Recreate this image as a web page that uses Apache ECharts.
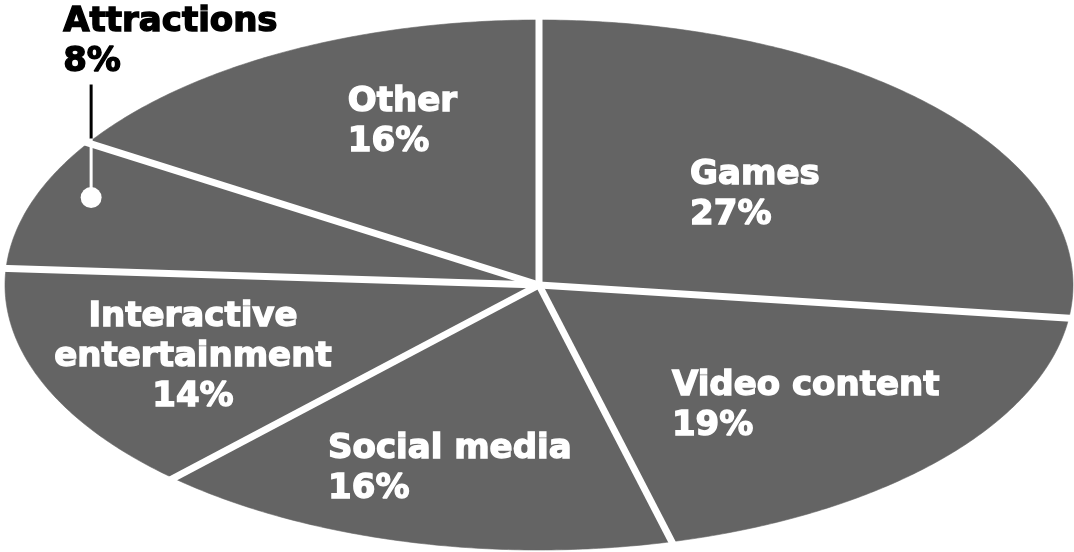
<!DOCTYPE html>
<html>
<head>
<meta charset="utf-8">
<script src="https://cdn.jsdelivr.net/npm/echarts@6/dist/echarts.min.js"></script>
<style>
  html, body { margin: 0; padding: 0; background: #ffffff; }
  #chart { width: 1074px; height: 552px; }
</style>
</head>
<body>
<div id="chart"></div>
<script>
// Share of spending by category (percent), drawn clockwise from 12 o'clock
const categories = ['Games', 'Video content', 'Social media', 'Interactive entertainment', 'Attractions', 'Other'];
const labelLines = ['Games', 'Video content', 'Social media', 'Interactive\nentertainment', 'Attractions', 'Other'];
const shares = [27, 19, 16, 14, 8, 16];

// Geometry of the flattened pie (pixels)
const PIE = { cx: 539, cy: 285, rx: 534, ry: 265 };
const FILL = '#646464';
const FONT = 'bold 34px "DejaVu Sans"';

// Label placement, as fractions of the radii from the centre (top edge of the text block)
const labelSpots = [
  { fx: 0.283, fy: -0.49, align: 'left', color: '#ffffff' },
  { fx: 0.249, fy: 0.305, align: 'left', color: '#ffffff' },
  { fx: -0.395, fy: 0.545, align: 'left', color: '#ffffff' },
  { fx: -0.648, fy: 0.045, align: 'center', color: '#ffffff' },
  { fx: -0.891, fy: -1.066, align: 'left', color: '#000000', leader: true },
  { fx: -0.358, fy: -0.765, align: 'left', color: '#ffffff' }
];

const total = shares.reduce((a, b) => a + b, 0);
const starts = [];
shares.reduce((acc, v, i) => { starts[i] = acc; return acc + v; }, 0);

// angle measured clockwise from the top
function pt(angle, k) {
  const s = k == null ? 1 : k;
  return [PIE.cx + PIE.rx * s * Math.sin(angle), PIE.cy - PIE.ry * s * Math.cos(angle)];
}

function renderItem(params, api) {
  const i = params.dataIndex;
  const v = api.value(0);
  const a0 = starts[i] / total * Math.PI * 2;
  const a1 = (starts[i] + v) / total * Math.PI * 2;
  const steps = Math.max(8, Math.ceil((a1 - a0) / 0.01));
  const points = [[PIE.cx, PIE.cy]];
  for (let s = 0; s <= steps; s++) {
    points.push(pt(a0 + (a1 - a0) * s / steps));
  }
  const edge = pt(a0, 1.05);
  const spot = labelSpots[i];
  const lx = PIE.cx + spot.fx * PIE.rx;
  const ly = PIE.cy + spot.fy * PIE.ry;
  const children = [
    { type: 'polygon', z2: 1, shape: { points: points }, style: { fill: FILL, stroke: FILL, lineWidth: 0.6 } },
    { type: 'line', z2: 10, shape: { x1: PIE.cx, y1: PIE.cy, x2: edge[0], y2: edge[1] },
      style: { stroke: '#ffffff', lineWidth: 7, lineCap: 'butt' } },
    { type: 'text', z2: 20, style: {
        text: labelLines[i] + '\n' + v + '%', x: lx, y: ly,
        fill: spot.color, font: FONT, lineHeight: 40,
        stroke: spot.color, lineWidth: 1.4,
        align: spot.align, verticalAlign: 'top'
      } }
  ];
  if (spot.leader) {
    // pointer from the outside label down into the slice
    const x = PIE.cx + PIE.rx * Math.sin(a1) + 3;
    const t = (x - PIE.cx) / PIE.rx;
    const yEdge = PIE.cy - PIE.ry * Math.sqrt(1 - t * t);
    const dotY = PIE.cy - PIE.ry * 0.33;
    children.push(
      { type: 'line', z2: 15, shape: { x1: x, y1: ly + 82, x2: x, y2: yEdge - 2 },
        style: { stroke: '#000000', lineWidth: 3 } },
      { type: 'line', z2: 15, shape: { x1: x, y1: yEdge - 2, x2: x, y2: dotY },
        style: { stroke: '#ffffff', lineWidth: 3 } },
      { type: 'circle', z2: 16, shape: { cx: x, cy: dotY, r: 10.5 }, style: { fill: '#ffffff' } }
    );
  }
  return { type: 'group', children: children };
}

const chart = echarts.init(document.getElementById('chart'), null, { renderer: 'canvas' });
chart.setOption({
  animation: false,
  backgroundColor: '#ffffff',
  tooltip: { show: false },
  series: [{
    type: 'custom',
    name: 'Share',
    coordinateSystem: 'none',
    data: shares.map((v, i) => ({ name: categories[i], value: [v] })),
    renderItem: renderItem
  }]
});
</script>
</body>
</html>
